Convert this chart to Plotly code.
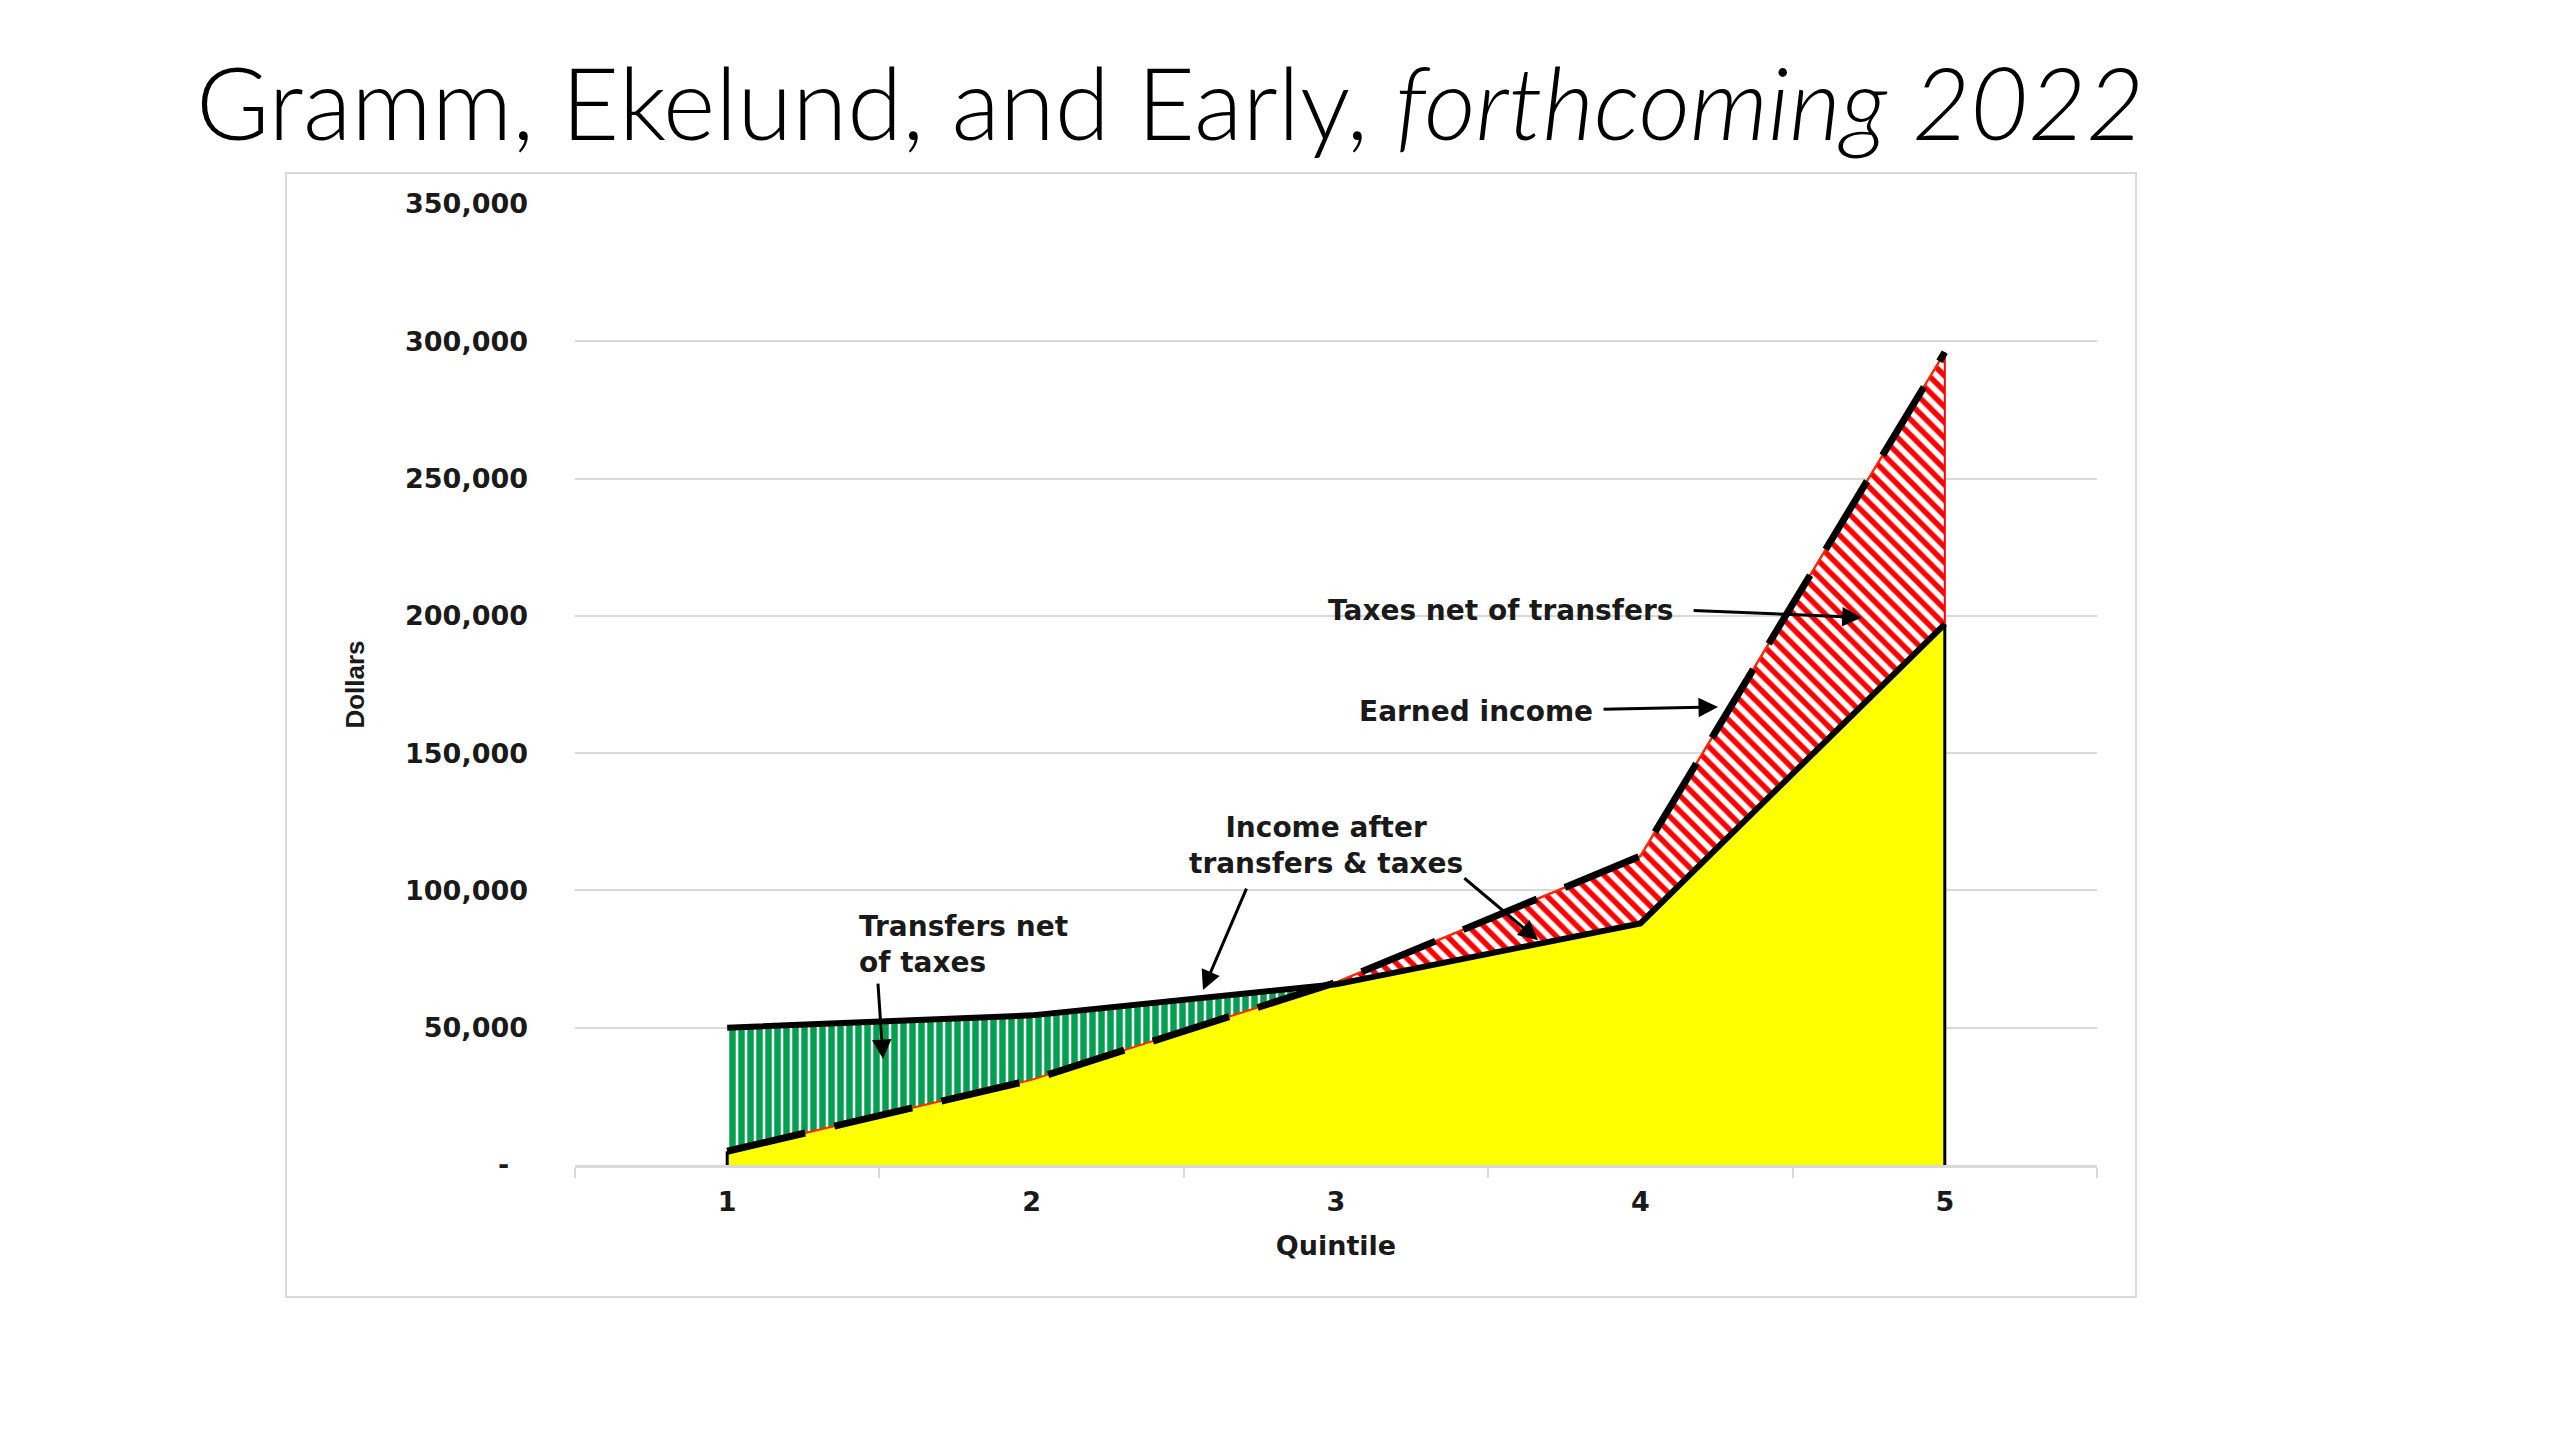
import plotly.graph_objects as go

# ---------------- data ----------------
quintiles = [1, 2, 3, 4, 5]
x_ticktext = ["1", "2", "3", "4", "5"]
earned_income = [5000, 31000, 66500, 112500, 296000]
income_after_transfers_taxes = [50000, 54500, 65800, 88000, 197000]
y_tickvals = [0, 50000, 100000, 150000, 200000, 250000, 300000, 350000]
y_ticktext = ["-\u00a0\u00a0", "50,000", "100,000", "150,000", "200,000",
              "250,000", "300,000", "350,000"]

title_text = "Gramm, Ekelund, and Early, <i>forthcoming 2022</i>"

# ---------------- derived geometry ----------------
pts = []
n = len(quintiles)
for i in range(n):
    pts.append((quintiles[i], earned_income[i], income_after_transfers_taxes[i]))
    if i < n - 1:
        d0 = income_after_transfers_taxes[i] - earned_income[i]
        d1 = income_after_transfers_taxes[i + 1] - earned_income[i + 1]
        if d0 * d1 < 0:
            t = d0 / (d0 - d1)
            xc = quintiles[i] + t * (quintiles[i + 1] - quintiles[i])
            yc = earned_income[i] + t * (earned_income[i + 1] - earned_income[i])
            pts.append((xc, yc, yc))

yellow_x = [p[0] for p in pts]
yellow_y = [min(p[1], p[2]) for p in pts]

green = [p for p in pts if p[2] >= p[1]]
red = [p for p in pts if p[1] >= p[2]]

green_x = [p[0] for p in green] + [p[0] for p in reversed(green)]
green_y = [p[2] for p in green] + [p[1] for p in reversed(green)]
red_x = [p[0] for p in red] + [p[0] for p in reversed(red)]
red_y = [p[1] for p in red] + [p[2] for p in reversed(red)]

TICKFONT = dict(family="DejaVu Sans", size=27, color="#1a1a1a", weight="bold")
ANNFONT = dict(family="DejaVu Sans", size=28, color="#1a1a1a", weight="bold")

fig = go.Figure()

# yellow base area
fig.add_trace(go.Scatter(x=yellow_x, y=yellow_y, mode="lines", fill="tozeroy",
                         fillcolor="#FFFF00", line=dict(width=0),
                         hoverinfo="skip", showlegend=False))
# green hatched: transfers net of taxes
fig.add_trace(go.Scatter(x=green_x, y=green_y, mode="lines", fill="toself",
                         fillcolor="white",
                         fillpattern=dict(shape="|", fgcolor="#00A050", bgcolor="white",
                                          fgopacity=1, size=9, solidity=0.72),
                         line=dict(width=0), hoverinfo="skip", showlegend=False))
# red hatched: taxes net of transfers
fig.add_trace(go.Scatter(x=red_x, y=red_y, mode="lines", fill="toself",
                         fillcolor="white",
                         fillpattern=dict(shape="\\", fgcolor="#FF0000", bgcolor="white",
                                          fgopacity=1, size=11, solidity=0.5),
                         line=dict(width=2, color="#FF0000"),
                         hoverinfo="skip", showlegend=False))
# thin red line under dashed earned income
fig.add_trace(go.Scatter(x=quintiles, y=earned_income, mode="lines",
                         line=dict(color="#FF2A00", width=2),
                         hoverinfo="skip", showlegend=False))
# earned income dashed
fig.add_trace(go.Scatter(x=quintiles, y=earned_income, mode="lines",
                         name="Earned income",
                         line=dict(color="black", width=7, dash="80px,30px"),
                         showlegend=False))
# income after transfers & taxes solid
fig.add_trace(go.Scatter(x=quintiles, y=income_after_transfers_taxes, mode="lines",
                         name="Income after transfers & taxes",
                         line=dict(color="black", width=6), showlegend=False))
# edges of yellow area
fig.add_trace(go.Scatter(x=[quintiles[-1], quintiles[-1]], y=[0, yellow_y[-1]],
                         mode="lines", line=dict(color="black", width=3),
                         hoverinfo="skip", showlegend=False))
fig.add_trace(go.Scatter(x=[quintiles[0], quintiles[0]], y=[0, yellow_y[0]],
                         mode="lines", line=dict(color="black", width=3),
                         hoverinfo="skip", showlegend=False))

W, H = 2560, 1440
L, R, T, B = 575, 2560 - 2097, 204, 1440 - 1165
pw, ph = W - L - R, H - T - B

def px_x(p):
    return (p - L) / pw

def px_y(p):
    return (H - B - p) / ph

# chart border
fig.add_shape(type="rect", xref="paper", yref="paper",
              x0=px_x(286), x1=px_x(2136), y0=px_y(1297), y1=px_y(173),
              line=dict(color="#D9D9D9", width=2), fillcolor="rgba(0,0,0,0)",
              layer="below")

annotations = []
# text labels
annotations.append(dict(x=4.114, y=202100, xref="x", yref="y", text="Taxes net of transfers",
                        showarrow=False, xanchor="right", yanchor="middle", font=ANNFONT))
annotations.append(dict(x=3.851, y=165300, xref="x", yref="y", text="Earned income",
                        showarrow=False, xanchor="right", yanchor="middle", font=ANNFONT))
annotations.append(dict(x=2.967, y=116300, xref="x", yref="y",
                        text="Income after<br>transfers & taxes",
                        showarrow=False, xanchor="center", yanchor="middle", font=ANNFONT))
annotations.append(dict(x=1.425, y=80200, xref="x", yref="y",
                        text="Transfers net<br>of taxes", align="left",
                        showarrow=False, xanchor="left", yanchor="middle", font=ANNFONT))
# arrows (tail -> head)
arrows = [
    ((4.17, 202000), (4.727, 199400)),
    ((3.874, 166000), (4.255, 166800)),
    ((2.708, 101200), (2.563, 63700)),
    ((3.417, 104900), (3.664, 81900)),
    ((1.495, 66600), (1.512, 38600)),
]
for (tx, ty), (hx, hy) in arrows:
    annotations.append(dict(x=hx, y=hy, ax=tx, ay=ty, xref="x", yref="y",
                            axref="x", ayref="y", text="", showarrow=True,
                            arrowhead=2, arrowsize=1.3, arrowwidth=3,
                            arrowcolor="black", standoff=0, startstandoff=0))

fig.update_layout(
    width=W, height=H,
    margin=dict(l=L, r=R, t=T, b=B, autoexpand=False),
    paper_bgcolor="white", plot_bgcolor="white",
    title=dict(text=title_text, xref="container", yref="container",
               x=196 / W, xanchor="left", y=1 - 105 / H, yanchor="middle",
               font=dict(family="Lato", size=100, color="black", weight=300)),
    annotations=annotations,
    xaxis=dict(range=[0.5, 5.5], tickvals=quintiles, ticktext=x_ticktext,
               ticks="", showgrid=False, zeroline=False,
               showline=True, linecolor="#D9D9D9", linewidth=3,
               tickfont=TICKFONT, ticklabelstandoff=11,
               minor=dict(tick0=0.5, dtick=1, ticks="outside", ticklen=10,
                          tickcolor="#D9D9D9", tickwidth=2, showgrid=False),
               title=dict(text="Quintile", font=TICKFONT, standoff=20),
               fixedrange=True),
    yaxis=dict(range=[0, 350000], tickvals=y_tickvals, ticktext=y_ticktext,
               ticks="", showgrid=True, gridcolor="#D9D9D9", gridwidth=2,
               zeroline=False, showline=False,
               tickfont=TICKFONT, ticklabelstandoff=46,
               title=dict(text="Dollars", standoff=32,
                          font=dict(family="Liberation Sans Narrow, Arial Narrow, sans-serif",
                                    size=26, color="#1a1a1a", weight="bold")),
               fixedrange=True),
)

fig.write_html("out.html", include_plotlyjs=True, config={"displayModeBar": False},
               post_script="document.body.style.margin='0';document.body.style.padding='0';")
